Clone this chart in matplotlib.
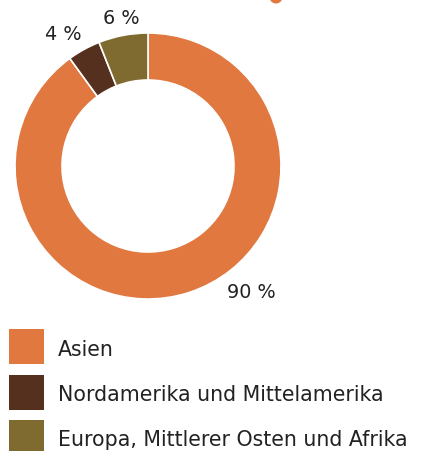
import matplotlib.pyplot as plt
import matplotlib.patches as patches

# shares by region (percent)
regions = ['Asien', 'Nordamerika und Mittelamerika', 'Europa, Mittlerer Osten und Afrika']
shares = [90, 4, 6]
share_labels = ['90 %', '4 %', '6 %']
colors = ['#E0783F', '#56301F', '#7F6A2F']

# label positions in pixels (x from left, y from top)
label_pos = [(251, 292), (63, 35), (121, 18)]

W, H = 422, 451
fig = plt.figure(figsize=(W / 100, H / 100), dpi=100)
ax = fig.add_axes([0, 0, 1, 1])

cx, cy, r_out, ring = 148, 166, 133, 47

ax.pie(shares, colors=colors, startangle=90, counterclock=False,
       center=(cx, H - cy), radius=r_out,
       wedgeprops=dict(width=ring, edgecolor='white', linewidth=1.2))

for (lx, ly), lab in zip(label_pos, share_labels):
    ax.text(lx, H - ly, lab, ha='center', va='center',
            family='DejaVu Sans', fontsize=13.8, color='#222222')

# legend drawn by hand
sq, step, top0 = 35, 45.5, 329
for i, (name, col) in enumerate(zip(regions, colors)):
    top = top0 + i * step
    ax.add_patch(patches.Rectangle((9, H - top - sq), sq, sq, facecolor=col, edgecolor='none'))
    ax.text(58, H - top - 26.5, name, ha='left', va='baseline',
            family='DejaVu Sans', fontsize=14.8, color='#222222')

# cropped piece of the title above
ax.add_patch(patches.Circle((276, H + 3), 6.5, facecolor=colors[0], edgecolor='none', clip_on=True))

ax.set_xlim(0, W)
ax.set_ylim(0, H)
ax.set_aspect('equal')
ax.axis('off')

fig.savefig('out.png', dpi=100)
